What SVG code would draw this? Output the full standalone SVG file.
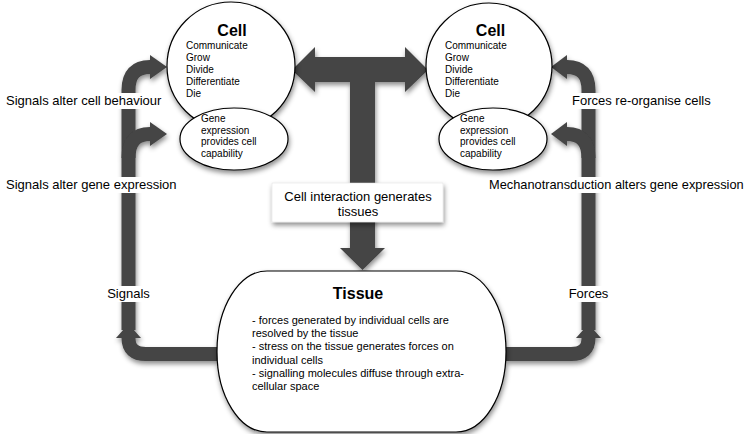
<svg xmlns="http://www.w3.org/2000/svg" width="746" height="434" viewBox="0 0 746 434">
<defs>
<filter id="sh" x="-20%" y="-20%" width="140%" height="150%">
<feDropShadow dx="1" dy="3" stdDeviation="2.5" flood-color="#000" flood-opacity="0.45"/>
</filter>
</defs>
<style>
.arr{fill:#444}
.band{fill:none;stroke:#444;stroke-width:14}
.node{fill:#fff;stroke:#000;stroke-width:1.2}
.bg{fill:#fff}
text{font-family:"Liberation Sans",Arial,Helvetica,sans-serif;fill:#000}
.lbl{font-size:13px}
.sm{font-size:10px}
.tx{font-size:11px}
.h{font-size:16px;font-weight:bold}
</style>
<rect width="746" height="434" fill="#fff"/>
<g id="connectors">
<g filter="url(#sh)">
<path class="arr" d="M292 70 L315 47 L315 57 L405 57 L405 47 L428 70 L405 92 L405 82 L375 82 L375 248 L385 248 L362.5 270 L340 248 L350 248 L350 82 L315 82 L315 92 Z"/>
<path class="band" d="M218 354 H146 Q128.5 354 128.5 338"/>
<polygon class="arr" points="116,338 141,338 128.5,324"/>
<path class="band" d="M128.5 330 V90 Q128.5 67 150 67"/>
<polygon class="arr" points="150,55 150,79 167,67"/>
<path class="band" d="M128.5 158 Q128.5 134 150 134"/>
<polygon class="arr" points="150,122 150,146 167,134"/>
<path class="band" d="M506 354 H571 Q588.5 354 588.5 338"/>
<polygon class="arr" points="576,338 601,338 588.5,324"/>
<path class="band" d="M588.5 330 V90 Q588.5 67 567 67"/>
<polygon class="arr" points="567,55 567,79 551,67"/>
<path class="band" d="M588.5 158 Q588.5 134 567 134"/>
<polygon class="arr" points="567,122 567,146 551,134"/>
</g>
<g id="labels">
<rect class="bg" x="4" y="93" width="166" height="16"/>
<text class="lbl" x="6" y="105">Signals alter cell behaviour</text>
<rect class="bg" x="4" y="177" width="181" height="16"/>
<text class="lbl" x="6" y="189">Signals alter gene expression</text>
<rect class="bg" x="106" y="286" width="45" height="16"/>
<text class="lbl" x="128.5" y="298" text-anchor="middle">Signals</text>
<rect class="bg" x="567" y="286" width="43" height="16"/>
<text class="lbl" x="588.5" y="298" text-anchor="middle">Forces</text>
<rect class="bg" x="570" y="93" width="140" height="16"/>
<text class="lbl" x="572" y="105">Forces re-organise cells</text>
<rect class="bg" x="487" y="177" width="259" height="16"/>
<text class="lbl" x="489" y="189" style="font-size:12.8px">Mechanotransduction alters gene expression</text>
</g>
<g id="label-box" filter="url(#sh)">
<rect x="272" y="183" width="171" height="39" fill="#fff" stroke="#ddd" stroke-width="0.5"/>
</g>
<text class="lbl" x="358" y="201" text-anchor="middle">Cell interaction generates</text>
<text class="lbl" x="358" y="216" text-anchor="middle">tissues</text>
</g>
<g id="cell-left">
<circle class="node" cx="231" cy="66" r="64" filter="url(#sh)"/>
<text class="h" x="232" y="36" text-anchor="middle">Cell</text>
<text class="sm" x="186" y="49">Communicate</text>
<text class="sm" x="186" y="61">Grow</text>
<text class="sm" x="186" y="73">Divide</text>
<text class="sm" x="186" y="85">Differentiate</text>
<text class="sm" x="186" y="97">Die</text>
</g>
<g id="gene-left">
<ellipse class="node" cx="234" cy="139" rx="54" ry="31" filter="url(#sh)"/>
<text class="sm" x="201" y="122">Gene</text>
<text class="sm" x="201" y="133.5">expression</text>
<text class="sm" x="201" y="145">provides cell</text>
<text class="sm" x="201" y="157">capability</text>
</g>
<g id="cell-right">
<circle class="node" cx="489" cy="66" r="63" filter="url(#sh)"/>
<text class="h" x="490.5" y="36" text-anchor="middle">Cell</text>
<text class="sm" x="445" y="49">Communicate</text>
<text class="sm" x="445" y="61">Grow</text>
<text class="sm" x="445" y="73">Divide</text>
<text class="sm" x="445" y="85">Differentiate</text>
<text class="sm" x="445" y="97">Die</text>
</g>
<g id="gene-right">
<ellipse class="node" cx="493" cy="139" rx="54" ry="31" filter="url(#sh)"/>
<text class="sm" x="460" y="122">Gene</text>
<text class="sm" x="460" y="133.5">expression</text>
<text class="sm" x="460" y="145">provides cell</text>
<text class="sm" x="460" y="157">capability</text>
</g>
<g id="tissue">
<rect class="node" x="217" y="271" width="289" height="161" rx="50" ry="80" filter="url(#sh)"/>
<text class="h" x="358" y="299" text-anchor="middle">Tissue</text>
<text class="tx" x="252" y="324">- forces generated by individual cells are</text>
<text class="tx" x="252" y="337.2">resolved by the tissue</text>
<text class="tx" x="252" y="350.4">- stress on the tissue generates forces on</text>
<text class="tx" x="252" y="363.6">individual cells</text>
<text class="tx" x="252" y="376.8">- signalling molecules diffuse through extra-</text>
<text class="tx" x="252" y="390">cellular space</text>
</g>
</svg>
